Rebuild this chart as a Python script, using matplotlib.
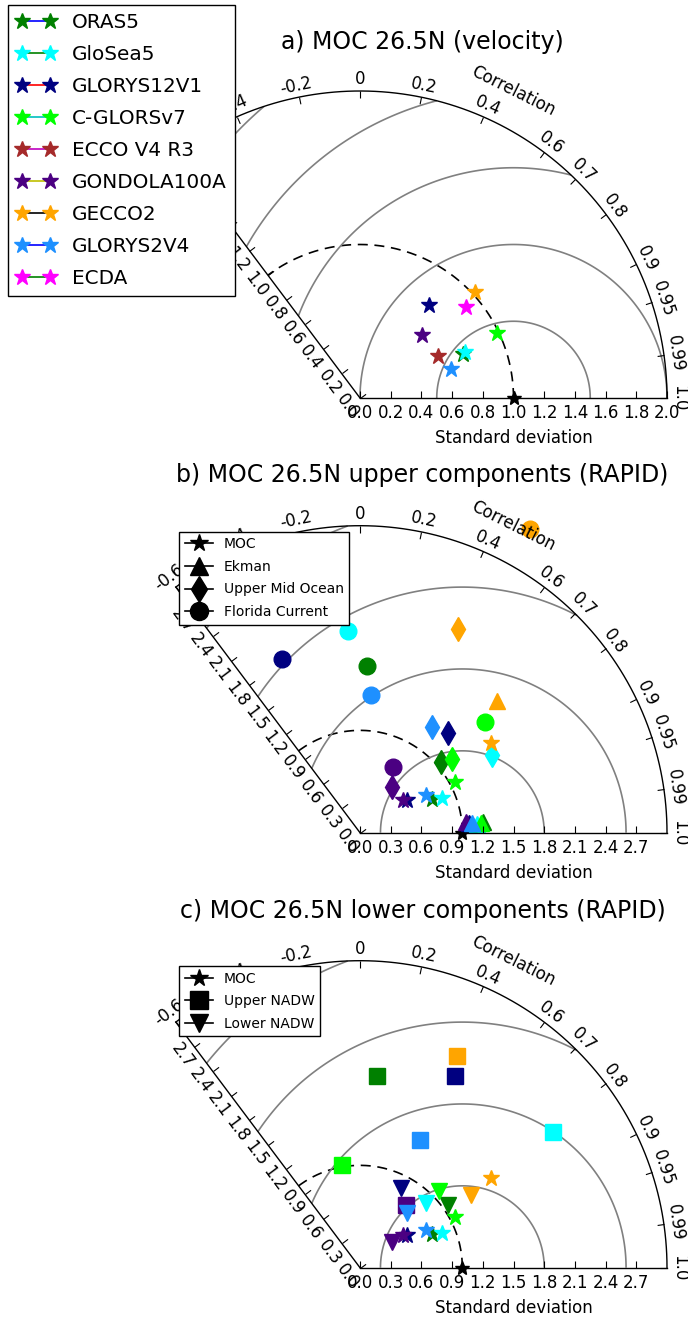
import numpy as np
import matplotlib
matplotlib.use('Agg')
import matplotlib.pyplot as plt
from matplotlib.projections import PolarAxes
from matplotlib.lines import Line2D
import mpl_toolkits.axisartist.floating_axes as FA
import mpl_toolkits.axisartist.grid_finder as GF

plt.rcParams['font.family'] = 'DejaVu Sans'
plt.rcParams['font.size'] = 12
plt.rcParams['axes.linewidth'] = 1.0
plt.rcParams['xtick.labelsize'] = 12
plt.rcParams['ytick.labelsize'] = 12
plt.rcParams['axes.labelsize'] = 12
plt.rcParams['xtick.major.size'] = 5
plt.rcParams['ytick.major.size'] = 5
plt.rcParams['xtick.major.pad'] = 5
plt.rcParams['ytick.major.pad'] = 5

# ---- data -------------------------------------------------------------
models = ['ORAS5', 'GloSea5', 'GLORYS12V1', 'C-GLORSv7', 'ECCO V4 R3',
          'GONDOLA100A', 'GECCO2', 'GLORYS2V4', 'ECDA']
model_colors = ['green', 'cyan', 'navy', 'lime', 'brown',
                'indigo', 'orange', 'dodgerblue', 'magenta']
line_colors = ['b', 'g', 'r', 'c', 'm', 'y', 'k', 'b', 'g']

# a) MOC 26.5N velocity (normalised std, correlation)
vel_std = [0.73, 0.75, 0.755, 0.985, 0.58, 0.58, 1.02, 0.62, 0.91]
vel_corr = [0.92, 0.915, 0.596, 0.904, 0.881, 0.701, 0.736, 0.954, 0.758]

# RAPID components (no ECCO, no ECDA)
rapid_models = ['ORAS5', 'GloSea5', 'GLORYS12V1', 'C-GLORSv7',
                'GONDOLA100A', 'GECCO2', 'GLORYS2V4']
rapid_colors = ['green', 'cyan', 'navy', 'lime', 'indigo', 'orange', 'dodgerblue']

moc_std = [0.778, 0.866, 0.562, 1.053, 0.530, 1.546, 0.742]
moc_corr = [0.908, 0.922, 0.823, 0.881, 0.798, 0.825, 0.869]
ek_std = [1.21, 1.15, 1.07, 1.19, 1.04, 1.86, 1.10]
ek_corr = [0.996, 0.997, 0.996, 0.997, 0.995, 0.721, 0.996]
umo_std = [1.049, 1.493, 1.299, 1.147, 0.547, 2.209, 1.250]
umo_corr = [0.751, 0.861, 0.659, 0.781, 0.571, 0.435, 0.560]
fc_std = [1.629, 1.976, 1.858, 1.629, 0.714, 3.399, 1.348]
fc_corr = [0.040, -0.061, -0.408, 0.750, 0.447, 0.488, 0.077]
unadw_std = [1.882, 2.308, 2.092, 1.019, 0.757, 2.278, 1.378]
unadw_corr = [0.087, 0.818, 0.443, -0.175, 0.589, 0.417, 0.425]
lnadw_std = [1.057, 0.901, 0.876, 1.077, 0.400, 1.296, 0.708]
lnadw_corr = [0.815, 0.716, 0.453, 0.719, 0.773, 0.836, 0.652]

corr_ticks = [-0.6, -0.4, -0.2, 0, 0.2, 0.4, 0.6, 0.7, 0.8, 0.9, 0.95, 0.99, 1.0]
corr_labels = ['-0.6', '-0.4', '-0.2', '0', '0.2', '0.4', '0.6', '0.7',
               '0.8', '0.9', '0.95', '0.99', '1.0']
std_ticks_a = [0.0, 0.2, 0.4, 0.6, 0.8, 1.0, 1.2, 1.4, 1.6, 1.8, 2.0]
std_ticks_bc = [0.0, 0.3, 0.6, 0.9, 1.2, 1.5, 1.8, 2.1, 2.4, 2.7]

W, H = 688, 1317
fig = plt.figure(figsize=(W / 100, H / 100), dpi=100)


def taylor(ox, oy, smax, std_ticks, levels, title, ty):
    R = 307.0
    k = R / smax
    cmin = min(corr_ticks)
    tmax = np.arccos(cmin)
    # axes rect so that origin lands at (ox, oy) px (floating axes pad 2%)
    w = smax * (1 - cmin) * k * 1.02
    h = smax * k * 1.02
    cx = ox + k * smax * (1 + cmin) / 2
    cy = oy - k * smax / 2
    rect = [(cx - w / 2) / W, (H - (cy + h / 2)) / H, w / W, h / H]

    tr = PolarAxes.PolarTransform(apply_theta_transforms=False)
    tlocs = np.arccos(corr_ticks)
    gh = FA.GridHelperCurveLinear(
        tr, extremes=(0, tmax, 0, smax),
        grid_locator1=GF.FixedLocator(tlocs),
        tick_formatter1=GF.DictFormatter(dict(zip(tlocs, corr_labels))),
        grid_locator2=GF.FixedLocator(std_ticks),
        tick_formatter2=GF.DictFormatter(dict(zip(std_ticks, ['%.1f' % s for s in std_ticks]))))
    ax = fig.add_axes(rect, axes_class=FA.FloatingAxes, grid_helper=gh)

    ax.axis["top"].set_axis_direction("bottom")
    ax.axis["top"].toggle(ticklabels=True, label=True)
    ax.axis["top"].major_ticklabels.set_axis_direction("top")
    ax.axis["top"].label.set_axis_direction("top")
    ax.axis["top"].label.set_text("Correlation")

    ax.axis["left"].set_axis_direction("bottom")
    ax.axis["left"].label.set_text("Standard deviation")
    ax.axis["left"].label.set_pad(8)

    ax.axis["right"].set_axis_direction("top")
    ax.axis["right"].toggle(ticklabels=True)
    ax.axis["right"].major_ticklabels.set_axis_direction("bottom")
    ax.axis["bottom"].set_visible(False)
    for key in ["top", "left", "right"]:
        ax.axis[key].major_ticks.set_tick_out(False)

    aux = ax.get_aux_axes(tr)
    aux.plot([0], [1.0], 'k*', ms=10, clip_on=False)
    t = np.linspace(0, tmax, 200)
    aux.plot(t, np.ones_like(t), 'k--', dashes=(6, 4), lw=1.2)
    rs, ts = np.meshgrid(np.linspace(0, smax, 200), np.linspace(0, tmax, 200))
    rms = np.sqrt(1 + rs ** 2 - 2 * rs * np.cos(ts))
    aux.contour(ts, rs, rms, levels, colors='0.5', linewidths=1.2)

    fig.text(422.5 / W, 1 - ty / H, title, ha='center', va='center', fontsize=17)
    return ax, aux


# a)
ax_a, aux_a = taylor(360, 398, 2.0, std_ticks_a, [0.5, 1.0, 1.5, 2.0, 2.5],
                     'a) MOC 26.5N (velocity)', 42)
handles = []
for name, c, lc, s, r in zip(models, model_colors, line_colors, vel_std, vel_corr):
    l, = aux_a.plot(np.arccos(r), s, marker='*', ms=12, color=lc, mfc=c, mec=c,
                    ls='-', lw=1.2, label=name, clip_on=False)
    handles.append(l)
fig.legend(handles=handles, loc='upper left', bbox_to_anchor=(8 / W, 1 - 5 / H),
           numpoints=2, fontsize=14.4, labelspacing=0.65, fancybox=False,
           edgecolor='k', framealpha=1, borderaxespad=0)

# b)
ax_b, aux_b = taylor(360, 832.7, 3.0, std_ticks_bc, [0.8, 1.6, 2.4, 3.2],
                     'b) MOC 26.5N upper components (RAPID)', 475)
for i, c in enumerate(rapid_colors):
    for st, co, m in [(moc_std, moc_corr, '*'), (ek_std, ek_corr, '^'),
                      (umo_std, umo_corr, 'd'), (fc_std, fc_corr, 'o')]:
        aux_b.plot(np.arccos(co[i]), st[i], marker=m, ms=12, color=c, mec=c,
                   ls='', clip_on=False)
proxies_b = [Line2D([], [], color='k', marker=m, ms=13, ls='-', lw=1.2)
             for m in ['*', '^', 'd', 'o']]
fig.legend(proxies_b, ['MOC', 'Ekman', 'Upper Mid Ocean', 'Florida Current'],
           loc='upper left', bbox_to_anchor=(179.3 / W, 1 - 531.7 / H),
           numpoints=1, fontsize=10, labelspacing=0.62, fancybox=False,
           edgecolor='k', framealpha=1, borderaxespad=0)

# c)
ax_c, aux_c = taylor(360, 1267.7, 3.0, std_ticks_bc, [0.8, 1.6, 2.4, 3.2],
                     'c) MOC 26.5N lower components (RAPID)', 911)
for i, c in enumerate(rapid_colors):
    for st, co, m in [(moc_std, moc_corr, '*'), (unadw_std, unadw_corr, 's'),
                      (lnadw_std, lnadw_corr, 'v')]:
        aux_c.plot(np.arccos(co[i]), st[i], marker=m, ms=12, color=c, mec=c,
                   ls='', clip_on=False)
proxies_c = [Line2D([], [], color='k', marker=m, ms=13, ls='-', lw=1.2)
             for m in ['*', 's', 'v']]
fig.legend(proxies_c, ['MOC', 'Upper NADW', 'Lower NADW'],
           loc='upper left', bbox_to_anchor=(179.3 / W, 1 - 966 / H),
           numpoints=1, fontsize=10, labelspacing=0.62, fancybox=False,
           edgecolor='k', framealpha=1, borderaxespad=0)

fig.savefig('out.png', dpi=100)
